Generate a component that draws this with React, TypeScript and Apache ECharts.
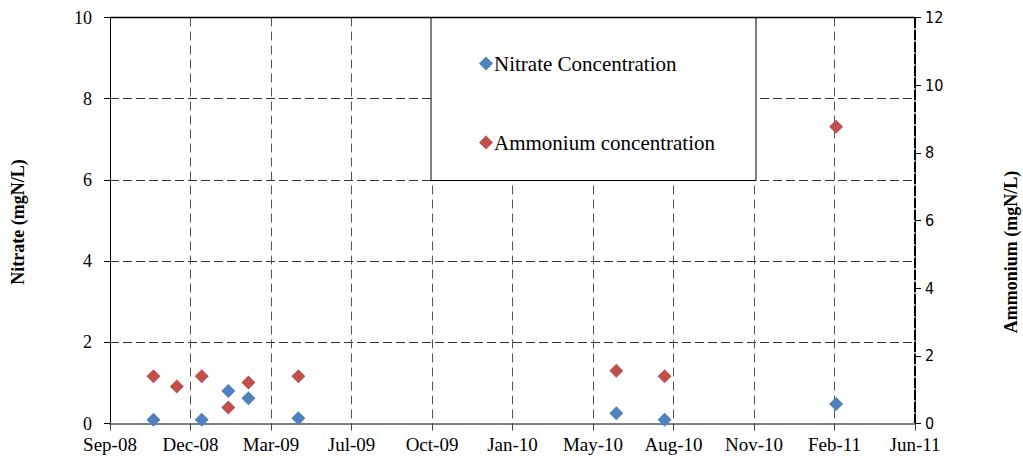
import React, { useEffect, useRef } from "react";
import * as echarts from "echarts";

const BASE_DATE = "2008-09-10";
const X_TICK_DAYS = 100;
const X_SPAN_DAYS = 1000;

const nitrateDates = ["2008-11-03", "2009-01-02", "2009-02-04", "2009-03-01", "2009-05-02", "2010-06-01", "2010-07-31", "2011-03-01"];
const nitrateValues = [0.09, 0.09, 0.8, 0.62, 0.13, 0.25, 0.09, 0.48];

const ammoniumDates = ["2008-11-03", "2008-12-02", "2009-01-02", "2009-02-04", "2009-03-01", "2009-05-02", "2010-06-01", "2010-07-31", "2011-03-01"];
const ammoniumValues = [1.4, 1.09, 1.4, 0.47, 1.21, 1.4, 1.56, 1.4, 8.77];

const seriesNames = ["Nitrate Concentration", "Ammonium concentration"];
const monthNames = ["Jan", "Feb", "Mar", "Apr", "May", "Jun", "Jul", "Aug", "Sep", "Oct", "Nov", "Dec"];

const DAY = 86400000;
const baseMs = Date.parse(BASE_DATE + "T00:00:00Z");
const toOffset = (d: string) => (Date.parse(d + "T00:00:00Z") - baseMs) / DAY;
const fmtDate = (v: number) => {
  const d = new Date(baseMs + v * DAY);
  return monthNames[d.getUTCMonth()] + "-" + String(d.getUTCFullYear() % 100).padStart(2, "0");
};

export default function App() {
  const ref = useRef<HTMLDivElement>(null);
  useEffect(() => {
    if (!ref.current) return;
    const chart = echarts.init(ref.current, null, { renderer: "svg" });
    const serif = "'Liberation Serif', 'Times New Roman', serif";
    chart.setOption({
      animation: false,
      backgroundColor: "#ffffff",
      grid: { left: 110, right: 108, top: 17.5, bottom: 47.5 },
      legend: {
        orient: "vertical",
        left: 474,
        top: 48,
        itemWidth: 14,
        itemHeight: 14,
        itemGap: 58,
        itemStyle: { opacity: 1 },
        z: 5,
        textStyle: { fontFamily: serif, fontSize: 21, color: "#000", padding: [0, 0, 0, -4] },
        data: [
          { name: seriesNames[0], icon: "diamond" },
          { name: seriesNames[1], icon: "diamond" },
        ],
      },
      graphic: [
        {
          type: "rect",
          z: 3,
          shape: { x: 431, y: 17.5, width: 325, height: 163 },
          style: { fill: "#ffffff", stroke: "#000", lineWidth: 1 },
        },
        {
          type: "line",
          z: 4,
          shape: { x1: 110, y1: 17.5, x2: 915, y2: 17.5 },
          style: { stroke: "#000", lineWidth: 1.5 },
        },
        {
          type: "text",
          z: 4,
          x: 18,
          y: 222,
          rotation: Math.PI / 2,
          style: {
            text: "Nitrate (mgN/L)",
            font: "bold 18px 'Liberation Serif', serif",
            fill: "#000",
            align: "center",
            verticalAlign: "middle",
          },
        },
        {
          type: "text",
          z: 4,
          x: 1011,
          y: 252,
          rotation: Math.PI / 2,
          style: {
            text: "Ammonium (mgN/L)",
            font: "bold 18px 'Liberation Serif', serif",
            fill: "#000",
            align: "center",
            verticalAlign: "middle",
          },
        },
      ],
      xAxis: {
        type: "value",
        min: 0,
        max: X_SPAN_DAYS,
        interval: X_TICK_DAYS,
        axisLine: { show: true, lineStyle: { color: "#7f7f7f", width: 2 } },
        axisTick: { show: true, length: 7, lineStyle: { color: "#404040" } },
        axisLabel: { formatter: (v: number) => fmtDate(v), fontFamily: serif, fontSize: 19, color: "#000", margin: 11 },
        splitLine: { show: true, lineStyle: { color: "#555", type: [9, 5], width: 1 } },
      },
      yAxis: [
        {
          type: "value",
          min: 0,
          max: 10,
          interval: 2,
          axisLine: { show: true, lineStyle: { color: "#000", width: 1 } },
          axisTick: { show: true, length: 6, lineStyle: { color: "#000" } },
          axisLabel: { fontFamily: serif, fontSize: 18, color: "#000", margin: 18 },
          splitLine: { show: true, lineStyle: { color: "#333", type: [9, 4], width: 1 } },
        },
        {
          type: "value",
          min: 0,
          max: 12,
          interval: 2,
          position: "right",
          axisLine: { show: true, lineStyle: { color: "#000", width: 2, type: [9, 3] } },
          axisTick: { show: true, length: 6, lineStyle: { color: "#000" } },
          axisLabel: { fontFamily: "'DejaVu Sans Condensed', 'Liberation Sans Narrow', sans-serif", fontSize: 16, color: "#000", margin: 10 },
          splitLine: { show: false },
        },
      ],
      series: [
        {
          name: seriesNames[0],
          type: "scatter",
          yAxisIndex: 0,
          symbol: "diamond",
          symbolSize: 14,
          itemStyle: { color: "#4F81BD", opacity: 1 },
          data: nitrateDates.map((d, i) => [toOffset(d), nitrateValues[i]]),
        },
        {
          name: seriesNames[1],
          type: "scatter",
          yAxisIndex: 1,
          symbol: "diamond",
          symbolSize: 14,
          itemStyle: { color: "#C0504D", opacity: 1 },
          data: ammoniumDates.map((d, i) => [toOffset(d), ammoniumValues[i]]),
        },
      ],
    });
    return () => chart.dispose();
  }, []);
  return <div ref={ref} style={{ position: "fixed", left: 0, top: 0, width: 1023, height: 471 }} />;
}
